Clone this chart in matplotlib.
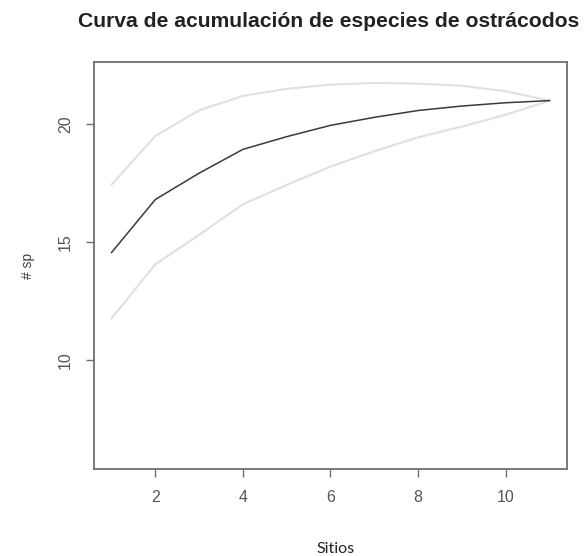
import numpy as np
import matplotlib
matplotlib.use('Agg')
import matplotlib.pyplot as plt

# species accumulation curve for ostracods, with upper / lower band
sitios = [1, 2, 3, 4, 5, 6, 7, 8, 9, 10, 11]
riqueza = [14.55, 16.8, 17.92, 18.93, 19.47, 19.95, 20.29, 20.58, 20.77, 20.91, 21.0]
superior = [17.43, 19.5, 20.59, 21.2, 21.5, 21.68, 21.75, 21.72, 21.63, 21.4, 21.0]
inferior = [11.75, 14.05, 15.3, 16.6, 17.42, 18.2, 18.85, 19.44, 19.9, 20.4, 21.0]

xticks = [2, 4, 6, 8, 10]
yticks = [10, 15, 20]

plt.rcParams['font.family'] = ['Liberation Sans', 'DejaVu Sans']

fig = plt.figure(figsize=(5.85, 5.56), dpi=100)
ax = fig.add_axes([0.1607, 0.1565, 0.8085, 0.732])

ax.plot(sitios, superior, color='#e0e0e0', lw=1.5)
ax.plot(sitios, inferior, color='#e0e0e0', lw=1.5)
ax.plot(sitios, riqueza, color='#3a3a3a', lw=1.1)

# R-style 4% padding around the data range
ax.set_xlim(0.6, 11.4)
ax.set_ylim(5.36, 22.64)
ax.set_xticks(xticks)
ax.set_yticks(yticks)
ax.set_yticklabels([str(v) for v in yticks], rotation=90, va='center')

for s in ax.spines.values():
    s.set_color('#707070')
    s.set_linewidth(1.3)
ax.tick_params(direction='out', length=6, width=1, color='#707070',
               labelcolor='#555555', labelsize=11.5, pad=9)

ax.set_ylabel('# sp', fontsize=10, color='#404040', labelpad=17)
fig.text(0.573, 0.005, 'Sitios', fontsize=11.5, family=['Lato', 'DejaVu Sans'],
         ha='center', va='baseline', color='#222222')

fig.text(0.5615, 0.9514, 'Curva de acumulación de especies de ostrácodos',
         fontsize=15.2, fontweight='bold', ha='center', va='baseline', color='#222222')

fig.savefig('out.png', dpi=100, facecolor='white')
